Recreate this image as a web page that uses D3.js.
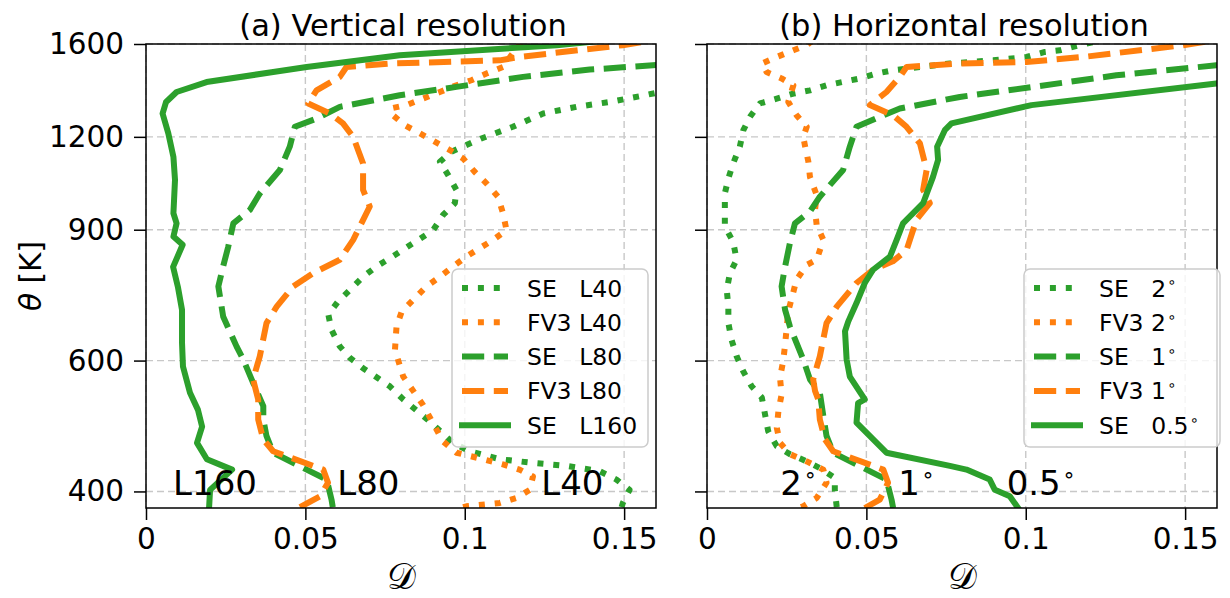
<!DOCTYPE html>
<html><head><meta charset="utf-8">
<script src="https://cdn.jsdelivr.net/npm/d3@7"></script>
<style>
body{margin:0;background:#fff;}
text{font-family:"DejaVu Sans",sans-serif;fill:#000;}
</style></head>
<body><svg id="c" width="1230" height="598"></svg>
<script>
// ---------- data: [D, theta(K)] ----------
const seL160 = [[0.0198,381],[0.0201,402],[0.027,428],[0.0191,442],[0.016,465],[0.0176,489],[0.0163,515],[0.0138,543],[0.0116,589],[0.0113,634],[0.0113,702],[0.01,754],[0.0085,802],[0.0115,859],[0.0086,881],[0.0096,918],[0.0086,947],[0.0091,1050],[0.0086,1128],[0.007,1213],[0.0052,1290],[0.0063,1337],[0.0096,1379],[0.019,1422],[0.0399,1467],[0.0504,1490],[0.0796,1545],[0.1288,1594],[0.1423,1615]];
const seL80 = [[0.0586,381],[0.0582,390],[0.0567,415],[0.0504,428],[0.0399,451],[0.0378,475],[0.0368,500],[0.0368,521],[0.0336,560],[0.0305,602],[0.0284,627],[0.0242,688],[0.0227,755],[0.0242,803],[0.0258,854],[0.0274,918],[0.0326,957],[0.0357,1007],[0.042,1083],[0.0451,1164],[0.0467,1238],[0.0535,1270],[0.0608,1317],[0.0796,1365],[0.0974,1401],[0.1183,1445],[0.1392,1478],[0.159,1498],[0.165,1503]];
const fv3L80 = [[0.0483,381],[0.0546,394],[0.0571,411],[0.0556,428],[0.0399,453],[0.0368,470],[0.0352,500],[0.0352,532],[0.0336,566],[0.0357,608],[0.0378,674],[0.041,709],[0.0462,755],[0.0525,787],[0.0608,820],[0.065,872],[0.0702,967],[0.0681,1018],[0.0681,1105],[0.065,1200],[0.0618,1251],[0.0577,1290],[0.0509,1331],[0.0535,1386],[0.0608,1445],[0.0629,1490],[0.0765,1506],[0.111,1521],[0.1172,1537],[0.1495,1594],[0.158,1615]];
const seL40 = [[0.1492,381],[0.1496,386],[0.1517,402],[0.1476,415],[0.1423,426],[0.1319,433],[0.1214,437],[0.111,442],[0.1016,453],[0.0963,465],[0.089,497],[0.0807,532],[0.0765,554],[0.0728,568],[0.0681,586],[0.064,605],[0.0608,627],[0.0582,660],[0.0572,692],[0.0603,721],[0.064,747],[0.0681,778],[0.0723,803],[0.0765,824],[0.0854,872],[0.0901,899],[0.0932,942],[0.0969,977],[0.0974,1018],[0.0948,1066],[0.0922,1111],[0.0958,1146],[0.1052,1194],[0.1151,1238],[0.1246,1290],[0.135,1317],[0.1455,1337],[0.1564,1365],[0.1611,1378]];
const fv3L40 = [[0.0995,381],[0.1005,382],[0.111,386],[0.1162,392],[0.1204,402],[0.1214,419],[0.1172,428],[0.112,435],[0.1057,442],[0.0974,451],[0.0932,467],[0.0869,523],[0.0807,571],[0.0781,620],[0.0786,667],[0.0802,698],[0.0838,724],[0.088,755],[0.0922,778],[0.0963,803],[0.1005,828],[0.1047,850],[0.1089,872],[0.1131,899],[0.112,947],[0.1104,997],[0.1068,1039],[0.1031,1077],[0.0995,1122],[0.0953,1152],[0.0906,1182],[0.0859,1213],[0.0812,1244],[0.0775,1283],[0.077,1311],[0.0817,1324],[0.0869,1351],[0.0922,1379],[0.0974,1408],[0.1021,1430],[0.1068,1460],[0.112,1490],[0.1146,1545],[0.1172,1598],[0.118,1615]];

const se05 = [[0.0976,380],[0.095,394],[0.0903,402],[0.0887,415],[0.0814,428],[0.0762,433],[0.0563,451],[0.0469,495],[0.0474,526],[0.0495,532],[0.0448,571],[0.0438,602],[0.0433,657],[0.0443,677],[0.0469,717],[0.0495,763],[0.0521,795],[0.0574,828],[0.0595,872],[0.0615,918],[0.0678,977],[0.0709,1060],[0.0725,1117],[0.0722,1164],[0.0746,1225],[0.0767,1251],[0.1018,1324],[0.1598,1416],[0.165,1424]];
const se1 = [[0.0584,380],[0.0579,390],[0.0563,415],[0.0501,428],[0.0396,451],[0.0375,475],[0.0365,505],[0.0354,543],[0.0323,566],[0.0302,602],[0.026,667],[0.0245,702],[0.0234,755],[0.0245,803],[0.026,863],[0.0276,918],[0.0323,952],[0.0354,997],[0.0427,1083],[0.0448,1164],[0.0469,1238],[0.0542,1277],[0.0605,1310],[0.0793,1358],[0.1023,1401],[0.1284,1452],[0.1598,1498],[0.165,1503]];
const fv3_1 = [[0.0495,380],[0.0542,390],[0.0568,411],[0.0553,428],[0.0396,453],[0.037,470],[0.0354,500],[0.0349,532],[0.0339,546],[0.0333,566],[0.0354,608],[0.0375,674],[0.0407,709],[0.0469,763],[0.0521,795],[0.0583,816],[0.0626,845],[0.0657,928],[0.0699,977],[0.0678,1018],[0.0689,1083],[0.0668,1176],[0.0626,1238],[0.0584,1283],[0.0511,1324],[0.0563,1379],[0.0605,1445],[0.0626,1490],[0.0793,1506],[0.1002,1513],[0.118,1537],[0.1493,1594],[0.1577,1615]];
const se2 = [[0.0407,381],[0.0401,402],[0.0401,417],[0.0354,430],[0.0313,439],[0.026,449],[0.0219,460],[0.0192,482],[0.0182,508],[0.0172,535],[0.014,554],[0.0114,580],[0.0093,608],[0.0077,640],[0.0067,674],[0.0067,709],[0.0062,747],[0.0072,787],[0.0093,820],[0.0082,867],[0.0056,909],[0.0056,952],[0.0056,1007],[0.0067,1055],[0.0082,1105],[0.0103,1164],[0.0114,1225],[0.0135,1277],[0.0166,1331],[0.0219,1351],[0.0271,1372],[0.0323,1386],[0.0375,1408],[0.0427,1423],[0.048,1438],[0.0532,1460],[0.0584,1475],[0.0762,1506],[0.0898,1521],[0.1002,1537],[0.106,1561],[0.1107,1569],[0.1169,1594],[0.1226,1615]];
const fv3_2 = [[0.0295,381],[0.0302,382],[0.0344,392],[0.0375,411],[0.0365,428],[0.0313,439],[0.026,449],[0.0229,465],[0.0219,487],[0.0224,513],[0.0234,540],[0.0229,569],[0.0239,599],[0.0245,630],[0.025,664],[0.0255,699],[0.0281,771],[0.0313,807],[0.0344,820],[0.0365,872],[0.0344,913],[0.0339,957],[0.0344,1002],[0.0323,1060],[0.0318,1111],[0.0307,1170],[0.0302,1200],[0.0313,1238],[0.0281,1283],[0.0255,1337],[0.0271,1408],[0.0234,1438],[0.0187,1467],[0.0172,1506],[0.0219,1537],[0.0271,1569],[0.0313,1594],[0.0329,1615]];

const xTicks = [0, 0.05, 0.1, 0.15];
const xTickLabels = ["0", "0.05", "0.1", "0.15"];
const yTicks = [400, 600, 900, 1200, 1600];
const yTickLabels = ["400", "600", "900", "1200", "1600"];
const titles = ["(a) Vertical resolution", "(b) Horizontal resolution"];
const leftLabels = ["SE   L40", "FV3 L40", "SE   L80", "FV3 L80", "SE   L160"];
const rightLabels = ["SE   2°", "FV3 2°", "SE   1°", "FV3 1°", "SE   0.5°"];
const leftNotes = ["L160", "L80", "L40"];
const rightNotes = ["2°", "1°", "0.5°"];

// ---------- drawing ----------
const GREEN = "#2ca02c", ORANGE = "#ff7f0e";
const LW = 6;
const styles = [
  {c: GREEN, dash: `${LW},${LW*1.65}`, cap: "butt"},
  {c: ORANGE, dash: `${LW},${LW*1.65}`, cap: "butt"},
  {c: GREEN, dash: `${LW*3.7},${LW*1.6}`, cap: "butt"},
  {c: ORANGE, dash: `${LW*3.7},${LW*1.6}`, cap: "butt"},
  {c: GREEN, dash: null, cap: "square"}
];
const svg = d3.select("#c");
const yTop = 44, yBottom = 508;
const panels = [
  {x0: 146, x1: 656, series: [seL40, fv3L40, seL80, fv3L80, seL160], labels: leftLabels, title: titles[0],
   notes: leftNotes, notePos: [[0.0085, 396], [0.06, 396], [0.124, 396]], legX: 452, showY: true},
  {x0: 707, x1: 1217, series: [se2, fv3_2, se1, fv3_1, se05], labels: rightLabels, title: titles[1],
   notes: rightNotes, notePos: [[0.023, 396], [0.06, 396], [0.094, 396]], legX: 1024, showY: false}
];

function addText(sel, str) {
  const parts = str.split("°");
  sel.append("tspan").text(parts[0]);
  if (parts.length > 1) {
    sel.append("tspan").attr("font-size", "62%").attr("dy", "-0.62em").attr("dx", "0.08em").text("∘");
  }
}

panels.forEach((p, pi) => {
  const x = d3.scaleLinear().domain([0, 0.16]).range([p.x0, p.x1]);
  const y = d3.scaleLog().domain([380, 1600]).range([yBottom, yTop]);
  const g = svg.append("g");
  const clipId = "clip" + pi;
  svg.append("defs").append("clipPath").attr("id", clipId)
    .append("rect").attr("x", p.x0).attr("y", yTop).attr("width", p.x1 - p.x0).attr("height", yBottom - yTop);

  // grid
  g.selectAll(".gx").data(xTicks).join("line")
    .attr("x1", d => x(d)).attr("x2", d => x(d)).attr("y1", yTop).attr("y2", yBottom)
    .attr("stroke", "#c8c8c8").attr("stroke-width", 1.4).attr("stroke-dasharray", "7,4");
  g.selectAll(".gy").data(yTicks).join("line")
    .attr("x1", p.x0).attr("x2", p.x1).attr("y1", d => y(d)).attr("y2", d => y(d))
    .attr("stroke", "#c8c8c8").attr("stroke-width", 1.4).attr("stroke-dasharray", "7,4");

  // lines
  const line = d3.line().x(d => x(d[0])).y(d => y(d[1]));
  const lg = g.append("g").attr("clip-path", `url(#${clipId})`);
  p.series.forEach((s, i) => {
    const st = styles[i];
    lg.append("path").attr("d", line(s)).attr("fill", "none")
      .attr("stroke", st.c).attr("stroke-width", LW)
      .attr("stroke-dasharray", st.dash).attr("stroke-linecap", st.cap)
      .attr("stroke-linejoin", "round");
  });

  // axes
  const xAxis = d3.axisBottom(x).tickValues(xTicks).tickFormat((d, i) => xTickLabels[i]).tickSize(12).tickPadding(8);
  const ax = g.append("g").attr("transform", `translate(0,${yBottom})`).call(xAxis);
  const yAxis = d3.axisLeft(y).tickValues(yTicks).tickFormat((d, i) => p.showY ? yTickLabels[i] : "").tickSize(12).tickPadding(10);
  const ay = g.append("g").attr("transform", `translate(${p.x0},0)`).call(yAxis);
  [ax, ay].forEach(a => {
    a.select(".domain").remove();
    a.selectAll("line").attr("stroke", "#000").attr("stroke-width", 1.5);
    a.selectAll("text").attr("font-size", 29.5).attr("font-family", "DejaVu Sans").attr("fill", "#000");
  });
  // frame
  g.append("rect").attr("x", p.x0).attr("y", yTop).attr("width", p.x1 - p.x0).attr("height", yBottom - yTop)
    .attr("fill", "none").attr("stroke", "#000").attr("stroke-width", 1.5);

  // title
  g.append("text").attr("x", (p.x0 + p.x1) / 2 + 2).attr("y", 36).attr("text-anchor", "middle")
    .attr("font-size", 30.5).text(p.title);
  // x label
  g.append("text").attr("x", (p.x0 + p.x1) / 2).attr("y", 589).attr("text-anchor", "middle")
    .attr("font-size", 36).attr("font-family", "DejaVu Serif").text("𝒟");

  // notes
  p.notes.forEach((n, i) => {
    const t = g.append("text").attr("x", x(p.notePos[i][0])).attr("y", y(p.notePos[i][1]))
      .attr("font-size", 34);
    addText(t, n);
  });

  // legend
  const lx = p.legX, ly = 269, lw = 196, lh = 178;
  const leg = g.append("g");
  leg.append("rect").attr("x", lx).attr("y", ly).attr("width", lw).attr("height", lh).attr("rx", 6)
    .attr("fill", "#fff").attr("fill-opacity", 0.8).attr("stroke", "#cccccc").attr("stroke-width", 1.5);
  p.labels.forEach((lab, i) => {
    const cy = 288 + i * 34.3;
    const st = styles[i];
    leg.append("line").attr("x1", lx + 10).attr("x2", lx + 56).attr("y1", cy).attr("y2", cy)
      .attr("stroke", st.c).attr("stroke-width", LW).attr("stroke-dasharray", st.dash)
      .attr("stroke-linecap", st.cap);
    const t = leg.append("text").attr("x", lx + 75).attr("y", cy + 8.5).attr("font-size", 23.5)
      .style("white-space", "pre");
    addText(t, lab);
  });
});

// y label
svg.append("text").attr("transform", "translate(41,276) rotate(-90)").attr("text-anchor", "middle")
  .attr("font-size", 29.5)
  .call(t => { t.append("tspan").attr("font-style", "italic").text("θ"); t.append("tspan").text(" [K]"); });
</script></body></html>
